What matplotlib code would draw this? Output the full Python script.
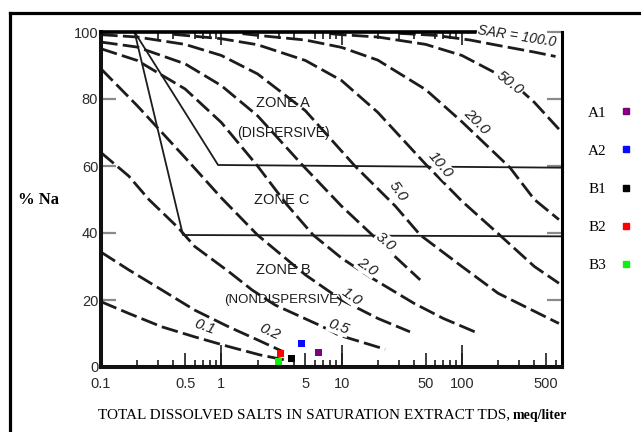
import matplotlib.pyplot as plt
from matplotlib.lines import Line2D
from matplotlib.ticker import FixedLocator, NullLocator

plt.rcParams['font.family'] = ['Liberation Sans', 'DejaVu Sans']

# dashed SAR lines: TDS (meq/liter) against % Na
sar_01_tds = [0.1, 0.17, 0.32, 0.6, 1.15, 2.1, 3.6]
sar_01_na = [19.5, 16.0, 12.0, 9.0, 6.1, 3.6, 1.9]
sar_02_tds = [0.1, 0.17, 0.32, 0.6, 1.15, 2.0, 3.3]
sar_02_na = [34.3, 29.0, 23.0, 17.0, 12.0, 8.1, 4.5]
sar_05_tds = [0.1, 0.17, 0.25, 0.44, 0.6, 1.15, 1.8, 2.8, 6.8, 9.5, 23]
sar_05_na = [64.0, 57.0, 50.0, 41.5, 36.0, 28.5, 23.0, 18.5, 12.2, 9.5, 5.3]
sar_1_tds = [0.1, 0.2, 0.5, 1, 2, 5, 10, 20, 37]
sar_1_na = [89.0, 78.0, 62.5, 50.5, 39.4, 27.5, 20.0, 14.5, 10.5]
sar_2_tds = [0.1, 0.2, 0.5, 1, 2, 3.5, 5.8, 10, 17, 40, 70, 128]
sar_2_na = [95.0, 91.5, 83.0, 73.0, 60.0, 48.5, 39.4, 32.5, 27.0, 19.0, 14.5, 10.5]
sar_3_tds = [0.1, 0.2, 0.5, 1, 2, 4.8, 10, 18, 25, 45]
sar_3_na = [97.0, 95.5, 90.5, 84.0, 75.0, 60.0, 48.0, 39.4, 34.5, 26.0]
sar_5_tds = [0.1, 0.2, 0.5, 1, 2, 5, 12.9, 28, 45, 100, 200, 640]
sar_5_na = [99.2, 98.5, 96.3, 93.0, 87.5, 76.5, 60.0, 48.0, 39.4, 30.0, 22.0, 13.0]
sar_10_tds = [0.4, 1, 2, 5, 10, 20, 50, 100, 206, 400, 640]
sar_10_na = [99.3, 98.0, 96.2, 91.5, 85.5, 76.0, 60.5, 49.5, 39.4, 30.0, 25.0]
sar_20_tds = [1.5, 2, 5, 10, 20, 50, 100, 251, 400, 640]
sar_20_na = [99.5, 99.0, 97.6, 95.4, 91.6, 82.8, 73.2, 59.5, 50.0, 44.0]
sar_50_tds = [8, 10, 20, 50, 100, 251, 400, 640]
sar_50_na = [99.5, 99.2, 98.5, 96.3, 93.0, 85.5, 79.0, 71.0]
sar_100_tds = [30, 60, 117, 200, 400, 600]
sar_100_na = [99.6, 99.0, 97.6, 96.0, 94.0, 92.7]

sar_lines = [(sar_01_tds, sar_01_na), (sar_02_tds, sar_02_na), (sar_05_tds, sar_05_na),
             (sar_1_tds, sar_1_na), (sar_2_tds, sar_2_na), (sar_3_tds, sar_3_na),
             (sar_5_tds, sar_5_na), (sar_10_tds, sar_10_na), (sar_20_tds, sar_20_na),
             (sar_50_tds, sar_50_na), (sar_100_tds, sar_100_na)]
sar_names = ["0.1", "0.2", "0.5", "1.0", "2.0", "3.0", "5.0", "10.0", "20.0", "50.0", "SAR = 100.0"]

# zone boundaries
zone_ac_tds = [0.19, 0.94, 675]
zone_ac_na = [100, 60.3, 59.5]
zone_bc_tds = [0.19, 0.48, 675]
zone_bc_na = [100, 39.4, 39.0]

# samples
sample_names = ["A1", "A2", "B1", "B2", "B3"]
sample_tds = [6.4, 4.6, 3.8, 3.1, 3.0]
sample_na = [4.4, 7.1, 2.6, 4.1, 1.6]
sample_colors = ["#800080", "#0a0aff", "#000000", "#ff0000", "#11ee11"]

tick_vals = [0.1, 0.5, 1, 5, 10, 50, 100, 500]
tick_text = ["0.1", "0.5", "1", "5", "10", "50", "100", "500"]

# where the curve numbers sit, and their slant
label_tds = [0.73, 2.54, 9.4, 12.1, 16.2, 23.0, 29.6, 65.8, 133, 251, 287]
label_na = [12.0, 10.5, 12.0, 21.0, 29.9, 37.4, 52.3, 60.3, 73.2, 84.7, 98.8]
label_rot = [-20, -25, -20, -35, -35, -40, -55, -50, -45, -38, -9]

ink = '#1c1c1c'

fig = plt.figure(figsize=(6.41, 4.32), dpi=100)
ax = fig.add_axes([101 / 641, 65 / 432, 460.7 / 641, 335 / 432])
ax.set_xscale('log')
ax.set_xlim(0.1, 675)
ax.set_ylim(0, 100)

for tds, na in sar_lines:
    ax.plot(tds, na, color=ink, lw=2.0, ls=(0, (6, 1.9)), solid_capstyle='butt')

ax.plot(zone_ac_tds, zone_ac_na, color=ink, lw=1.3)
ax.plot(zone_bc_tds, zone_bc_na, color=ink, lw=1.3)

for name, x, y, r in zip(sar_names, label_tds, label_na, label_rot):
    size = 10 if name.startswith('SAR') else 11
    ax.text(x, y, name, rotation=r, rotation_mode='anchor', ha='center', va='center',
            fontsize=size, style='italic', color=ink,
            bbox=dict(boxstyle='square,pad=0.05', fc='white', ec='none'))

zone_kw = dict(ha='center', va='center', color=ink)
ax.text(3.26, 78.8, "ZONE A", fontsize=10.5, **zone_kw)
ax.text(3.26, 70.0, "(DISPERSIVE)", fontsize=10, **zone_kw)
ax.text(3.2, 49.9, "ZONE C", fontsize=10.5, **zone_kw)
ax.text(3.26, 29.0, "ZONE B", fontsize=10.5, **zone_kw)
ax.text(3.3, 20.0, "(NONDISPERSIVE)", fontsize=9.5, **zone_kw)

ax.scatter(sample_tds, sample_na, marker='s', s=26, c=sample_colors, zorder=5, linewidths=0)

# frame of the chart
for side in ['left', 'bottom']:
    ax.spines[side].set_linewidth(2.9)
    ax.spines[side].set_color('#111111')
ax.spines['right'].set_linewidth(2.2)
ax.spines['top'].set_linewidth(2.6)
ax.spines['top'].set_bounds(0.1, 140)

ax.set_xticks(tick_vals)
ax.set_xticklabels(tick_text)
minor = [m * 10.0 ** e for e in range(-1, 3) for m in (2, 3, 4, 6, 7, 8, 9)]
ax.xaxis.set_minor_locator(FixedLocator([v for v in minor if v < 675]))
ax.tick_params(axis='x', which='major', direction='in', length=10, width=1.2,
               color=ink, pad=7, labelsize=10.5, labelcolor='#2a2a2a', top=False)
ax.tick_params(axis='x', which='minor', direction='in', length=5, width=1.2, color=ink, top=False)

ax.set_yticks([0, 20, 40, 60, 80, 100])
ax.tick_params(axis='y', direction='in', length=11, width=1.6, color='#8a8a8a',
               left=True, right=True, labelsize=10.5, labelcolor='#2a2a2a', pad=2)

# long ticks at each decade
deca = ax.secondary_xaxis('bottom')
deca.set_xticks([1, 10, 100])
deca.xaxis.set_minor_locator(NullLocator())
deca.tick_params(direction='in', length=16, width=1.2, color=ink, labelbottom=False)
for s in deca.spines.values():
    s.set_visible(False)

# ticks hanging from the top line
top = ax.secondary_xaxis('top')
top.set_xticks([1, 10, 100])
top.xaxis.set_minor_locator(FixedLocator([v for v in minor if 0.25 < v < 100]))
top.tick_params(which='major', direction='in', length=9, width=1.2, color=ink, labeltop=False)
top.tick_params(which='minor', direction='in', length=5, width=1.2, color=ink)
for s in top.spines.values():
    s.set_visible(False)

fig.text(39 / 641, 1 - 200 / 432, "% Na", ha='center', va='center', fontsize=12,
         fontweight='bold', family='Liberation Serif')
fig.text(98 / 641, 1 - 415 / 432, "TOTAL DISSOLVED SALTS IN SATURATION EXTRACT TDS,",
         ha='left', va='center', fontsize=11, family='Liberation Serif')
fig.text(567 / 641, 1 - 415 / 432, "meq/liter", ha='right', va='center', fontsize=10,
         fontweight='bold', family='Liberation Serif')

handles = [Line2D([], [], marker='s', ls='none', color=c, markersize=4.5) for c in sample_colors]
fig.legend(handles, sample_names, loc='upper left', bbox_to_anchor=(588 / 641, 1 - 106 / 432),
           frameon=False, markerfirst=False, handlelength=1, handletextpad=0.75,
           borderpad=0, borderaxespad=0, labelspacing=1.6,
           prop=dict(family='Liberation Serif', size=11))

# outer border
fig.add_artist(Line2D([10 / 641, 1], [1 - 12.5 / 432] * 2, transform=fig.transFigure, lw=2.3, color='black'))
fig.add_artist(Line2D([10 / 641] * 2, [0, 1 - 12.5 / 432], transform=fig.transFigure, lw=2.3, color='black'))

fig.savefig('out.png', dpi=100)
